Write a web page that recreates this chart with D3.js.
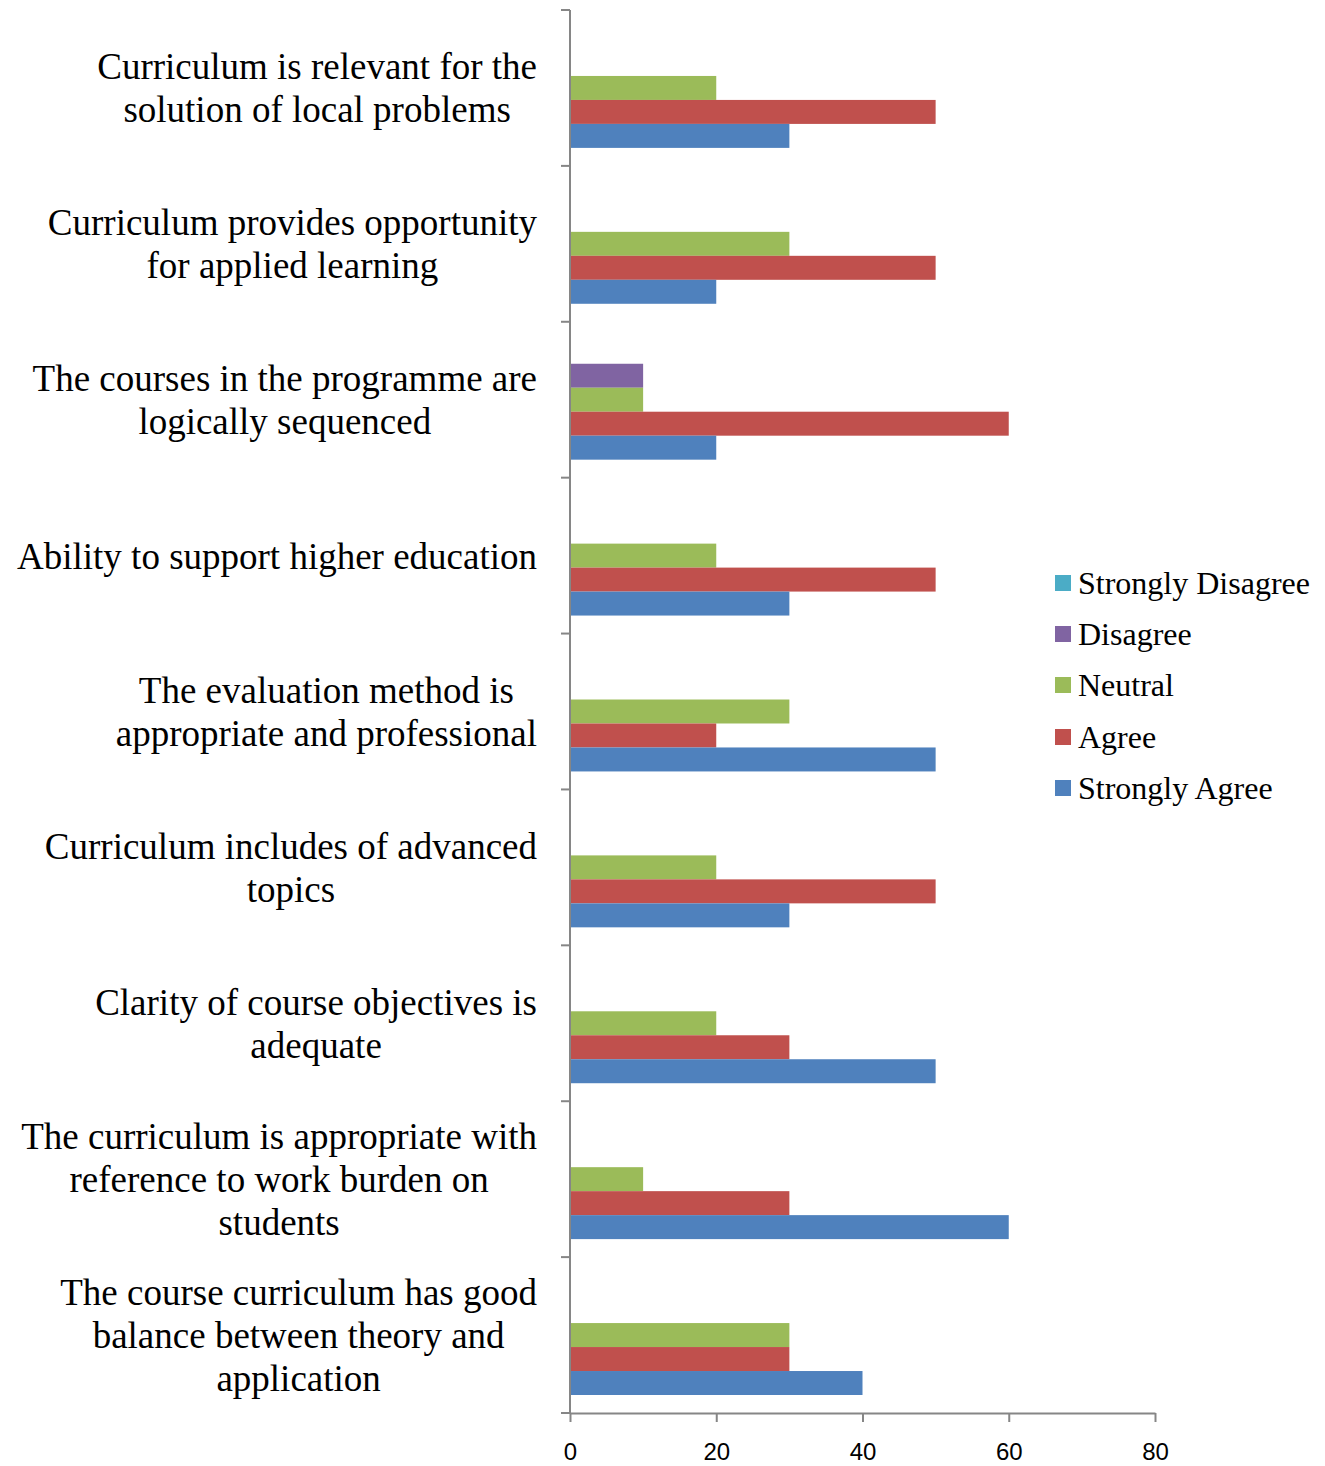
<!DOCTYPE html>
<html><head><meta charset="utf-8">
<script src="https://cdn.jsdelivr.net/npm/d3@7"></script>
<style>body{margin:0;background:#fff}</style>
</head><body>
<svg id="c" width="1325" height="1466"></svg>
<script>
const categories = [
  ["Curriculum is relevant for the","solution of local problems"],
  ["Curriculum provides opportunity","for applied learning"],
  ["The courses in the programme are","logically sequenced"],
  ["Ability to support higher education"],
  ["The evaluation method is","appropriate and professional"],
  ["Curriculum includes of advanced","topics"],
  ["Clarity of course objectives is","adequate"],
  ["The curriculum is appropriate with","reference to work burden on","students"],
  ["The course curriculum has good","balance between theory and","application"]
];
const seriesNames = ["Strongly Disagree","Disagree","Neutral","Agree","Strongly Agree"];
const seriesColors = ["#4BACC6","#8064A2","#9BBB59","#C0504D","#4F81BD"];
const stronglyDisagree = [0,0,0,0,0,0,0,0,0];
const disagree         = [0,0,10,0,0,0,0,0,0];
const neutral          = [20,30,10,20,30,20,20,10,30];
const agree            = [50,50,60,50,20,50,30,30,30];
const stronglyAgree    = [30,20,20,30,50,30,50,60,40];
const xTicks = [0,20,40,60,80];

const series = [stronglyDisagree, disagree, neutral, agree, stronglyAgree];
const svg = d3.select("#c");
const x0 = 570, x1 = 1155, yTop = 10, yBot = 1413;
const x = d3.scaleLinear().domain([0,80]).range([x0,x1]);
const y = d3.scaleBand().domain(d3.range(categories.length)).range([yTop,yBot]).padding(0);
const inner = d3.scaleBand().domain(d3.range(seriesNames.length)).range([18, y.bandwidth()-18]).padding(0);

// bars
categories.forEach((c,i)=>{
  series.forEach((s,j)=>{
    if (s[i] > 0) {
      svg.append("rect")
        .attr("x", x(0)).attr("y", y(i)+inner(j))
        .attr("width", x(s[i])-x(0)).attr("height", inner.bandwidth())
        .attr("fill", seriesColors[j]);
    }
  });
});

// y axis
const axisColor = "#868686";
svg.append("line").attr("x1",x0).attr("x2",x0).attr("y1",yTop).attr("y2",yBot)
  .attr("stroke",axisColor).attr("stroke-width",2);
const yTickPos = d3.range(categories.length+1).map(i=> i<categories.length ? y(i) : yBot);
yTickPos.forEach(p=>{
  svg.append("line").attr("x1",x0-9).attr("x2",x0).attr("y1",p).attr("y2",p)
    .attr("stroke",axisColor).attr("stroke-width",2);
});
// x axis
const xa = svg.append("g").attr("transform",`translate(0,${yBot})`)
  .call(d3.axisBottom(x).tickValues(xTicks).tickSize(9).tickPadding(21).tickSizeOuter(0));
xa.select(".domain").attr("stroke",axisColor).attr("stroke-width",2);
xa.selectAll(".tick line").attr("stroke",axisColor).attr("stroke-width",2);
xa.selectAll(".tick text").attr("fill","#000")
  .style("font-family","'Liberation Sans Narrow','Liberation Sans',sans-serif")
  .style("font-size","24px");

// category labels
const labelFont = "'Liberation Serif','Times New Roman',serif";
const lh = 43;
categories.forEach((lines,i)=>{
  const g = svg.append("g");
  const cy = y(i) + y.bandwidth()/2;
  const texts = lines.map((t,k)=> g.append("text").text(t)
      .attr("y", cy + (k - (lines.length-1)/2)*lh)
      .attr("dy","0.35em")
      .attr("text-anchor","middle")
      .style("font-family",labelFont).style("font-size","37px").attr("fill","#000"));
  const maxW = d3.max(texts, t=> t.node().getComputedTextLength());
  texts.forEach(t=> t.attr("x", 537 - maxW/2));
});

// legend
const legY = [583,634,685,737,788];
seriesNames.forEach((n,j)=>{
  svg.append("rect").attr("x",1055).attr("y",legY[j]-8).attr("width",16).attr("height",16)
    .attr("fill",seriesColors[j]);
  svg.append("text").attr("x",1078).attr("y",legY[j]).attr("dy","0.35em").text(n)
    .style("font-family",labelFont).style("font-size","32px").attr("fill","#000");
});
</script>
</body></html>
